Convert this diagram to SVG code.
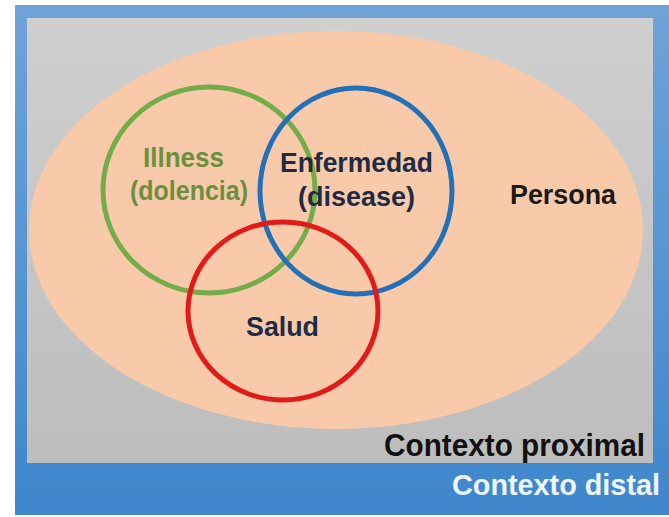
<svg xmlns="http://www.w3.org/2000/svg" width="669" height="517" viewBox="0 0 669 517">
<defs>
<linearGradient id="gBlue" x1="0" y1="0" x2="0" y2="1"><stop offset="0" stop-color="#6fa3d8"/><stop offset="1" stop-color="#3f86cc"/></linearGradient>
<linearGradient id="gGrey" x1="0" y1="0" x2="0" y2="1"><stop offset="0" stop-color="#cfcfcf"/><stop offset="1" stop-color="#bdbdbd"/></linearGradient>
</defs>
<style>
text{font-family:"Liberation Sans",Arial,sans-serif;font-weight:bold;}
.ring{fill:none;stroke-width:5;}
.in{font-size:27px;}
</style>
<rect width="669" height="517" fill="#ffffff"/>
<g id="contexto-distal">
<rect x="15" y="5" width="654" height="510" fill="url(#gBlue)"/>
<text x="452" y="495" font-size="29.5" fill="#eef6ff" textLength="208" lengthAdjust="spacingAndGlyphs">Contexto distal</text>
</g>
<g id="contexto-proximal">
<rect x="27" y="18" width="626" height="445" fill="url(#gGrey)"/>
<text x="384" y="456" font-size="31" fill="#111111" textLength="261" lengthAdjust="spacingAndGlyphs">Contexto proximal</text>
</g>
<g id="persona">
<ellipse cx="336" cy="230" rx="307" ry="199" fill="#f9caa9"/>
<text x="510" y="204" class="in" fill="#1a1a1a" textLength="106" lengthAdjust="spacingAndGlyphs">Persona</text>
</g>
<g id="illness">
<ellipse cx="209" cy="190" rx="106" ry="103" class="ring" stroke="#72ad4a"/>
<text x="143" y="167" class="in" fill="#6a8f3e" textLength="81" lengthAdjust="spacingAndGlyphs">Illness</text>
<text x="130" y="200" class="in" fill="#6a8f3e" textLength="118" lengthAdjust="spacingAndGlyphs">(dolencia)</text>
</g>
<g id="enfermedad">
<ellipse cx="356" cy="191" rx="96" ry="103" class="ring" stroke="#2270b8"/>
<text x="280" y="172" class="in" fill="#1f2a44" textLength="153" lengthAdjust="spacingAndGlyphs">Enfermedad</text>
<text x="298" y="206" class="in" fill="#1f2a44" textLength="117" lengthAdjust="spacingAndGlyphs">(disease)</text>
</g>
<g id="salud">
<ellipse cx="283" cy="311" rx="95" ry="89" class="ring" stroke="#e21a1a"/>
<text x="246" y="336" class="in" fill="#1f2a44" textLength="73" lengthAdjust="spacingAndGlyphs">Salud</text>
</g>
<g id="connectors"/>
</svg>
